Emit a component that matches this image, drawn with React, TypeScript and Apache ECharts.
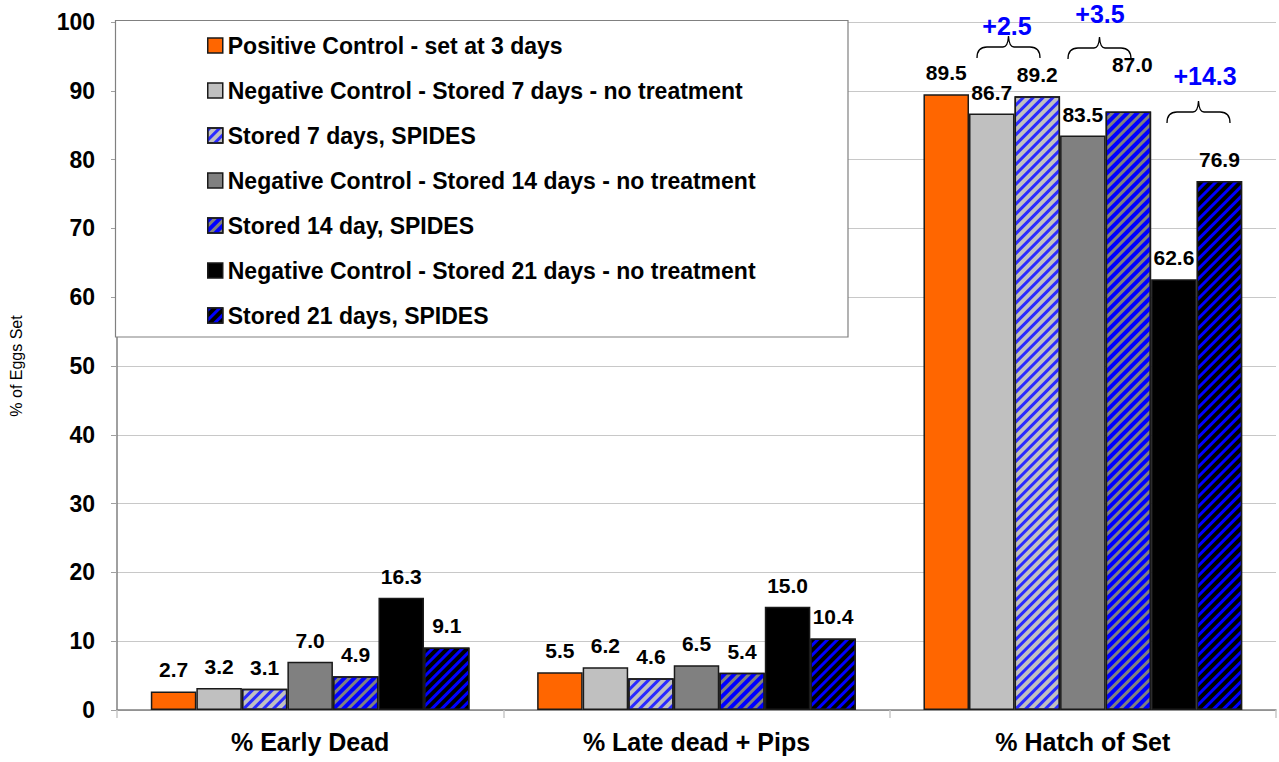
import React, { useEffect, useRef } from 'react';
import * as echarts from 'echarts';

const categories = ['% Early Dead', '% Late dead + Pips', '% Hatch of Set'];
const seriesNames = [
  'Positive Control - set at 3 days',
  'Negative Control - Stored 7 days - no treatment',
  'Stored 7 days, SPIDES',
  'Negative Control - Stored 14 days - no treatment',
  'Stored 14 day, SPIDES',
  'Negative Control - Stored 21 days - no treatment',
  'Stored 21 days, SPIDES',
];
const positiveControl = [2.7, 5.5, 89.5];
const negative7 = [3.2, 6.2, 86.7];
const spides7 = [3.1, 4.6, 89.2];
const negative14 = [7.0, 6.5, 83.5];
const spides14 = [4.9, 5.4, 87.0];
const negative21 = [16.3, 15.0, 62.6];
const spides21 = [9.1, 10.4, 76.9];
const yMin = 0;
const yMax = 100;
const yInterval = 10;
const annotationTexts = ['+2.5', '+3.5', '+14.3'];

const FONT = '"Liberation Sans", Arial, sans-serif';
const BLUE = '#0000ff';

export default function App() {
  const ref = useRef<HTMLDivElement>(null);
  useEffect(() => {
    document.body.style.margin = '0';
    if (!ref.current) return;
    echarts.graphic.registerShape(
      'brace',
      echarts.graphic.extendPath(
        'M0,22 C0,14 4,11 10,11 L26,11 C29,11 31,9 31.5,0 C32,9 34,11 37,11 L53,11 C59,11 63,14 63,22',
        {}
      )
    );
    const chart = echarts.init(ref.current, null, { renderer: 'svg' });

    const allData = [positiveControl, negative7, spides7, negative14, spides14, negative21, spides21];
    const colors = ['#ff6600', '#c0c0c0', '#c0c0c0', '#808080', '#808080', '#000000', '#000000'];
    const rot = -Math.PI / 4;
    const decals: any[] = [
      null,
      null,
      { symbol: 'rect', symbolSize: 1, color: '#2a2aff', dashArrayX: [1, 0], dashArrayY: [3, 3.8], rotation: rot },
      null,
      { symbol: 'rect', symbolSize: 1, color: BLUE, dashArrayX: [1, 0], dashArrayY: [4, 2.8], rotation: rot },
      null,
      { symbol: 'rect', symbolSize: 1, color: BLUE, dashArrayX: [1, 0], dashArrayY: [2.8, 4], rotation: rot },
    ];

    const series = allData.map((arr, si) => ({
      name: seriesNames[si],
      type: 'bar',
      barGap: '0%',
      barCategoryGap: '17.5%',
      itemStyle: {
        color: colors[si],
        borderColor: '#1a1a1a',
        borderWidth: 1.5,
        ...(decals[si] ? { decal: decals[si] } : {}),
      },
      label: {
        show: true,
        position: 'top',
        distance: 11,
        color: '#000',
        fontWeight: 'bold',
        fontSize: 21,
        fontFamily: FONT,
        formatter: (p: any) => Number(p.value).toFixed(1),
      },
      data: arr.map((v, i) =>
        si === 4 && i === 2 ? { value: v, label: { offset: [4, -25] } } : v
      ),
    }));

    const textStyleBlue = (t: string, x: number, y: number) => ({
      type: 'text',
      x,
      y,
      z: 10,
      style: {
        text: t,
        fill: BLUE,
        font: `bold 25px ${FONT}`,
        align: 'center',
        verticalAlign: 'middle',
        textAlign: 'center',
        textVerticalAlign: 'middle',
      },
    });
    const brace = (x: number, y: number) => ({
      type: 'brace',
      x,
      y,
      z: 10,
      style: { stroke: '#000', fill: 'none', lineWidth: 1.3 },
    });

    chart.setOption({
      animation: false,
      backgroundColor: '#fff',
      grid: { left: 113, right: 3, top: 22, bottom: 52, containLabel: false },
      legend: {
        orient: 'vertical',
        left: 207,
        top: 34,
        padding: 0,
        itemWidth: 15,
        itemHeight: 15,
        itemGap: 22,
        itemTextGap: 6,
        itemStyle: { borderColor: '#1a1a1a', borderWidth: 1.5 },
        textStyle: { fontSize: 23, lineHeight: 22, fontWeight: 'bold', color: '#000', fontFamily: FONT },
        icon: 'rect',
        z: 8,
        data: seriesNames,
      },
      xAxis: {
        type: 'category',
        data: categories,
        axisLine: { show: true, lineStyle: { color: '#808080', width: 1.5 } },
        axisTick: { show: true, length: 8, lineStyle: { color: '#c8c8c8', width: 1.5 } },
        axisLabel: { color: '#000', fontWeight: 'bold', fontSize: 25, fontFamily: FONT, margin: 19 },
      },
      yAxis: {
        type: 'value',
        min: yMin,
        max: yMax,
        interval: yInterval,
        name: '% of Eggs Set',
        nameLocation: 'middle',
        nameRotate: 90,
        nameGap: 93,
        nameTextStyle: { color: '#000', fontSize: 16, fontFamily: FONT },
        axisLine: { show: true, lineStyle: { color: '#808080', width: 1.5 } },
        axisTick: { show: true, length: 6, lineStyle: { color: '#a0a0a0' } },
        splitLine: { show: true, lineStyle: { color: '#c8c8c8', width: 1 } },
        axisLabel: { color: '#000', fontWeight: 'bold', fontSize: 23, fontFamily: FONT, margin: 22 },
      },
      graphic: [
        {
          type: 'rect',
          z: 3,
          shape: { x: 115.5, y: 20.5, width: 732.5, height: 316.5 },
          style: { fill: '#fff', stroke: '#808080', lineWidth: 1.2 },
        },
        textStyleBlue(annotationTexts[0], 1007, 26),
        textStyleBlue(annotationTexts[1], 1100, 14),
        textStyleBlue(annotationTexts[2], 1205, 76),
        brace(977, 36),
        brace(1068, 37),
        brace(1167, 101),
      ],
      series,
    });
    return () => chart.dispose();
  }, []);
  return <div ref={ref} style={{ width: 1279, height: 762 }} />;
}
